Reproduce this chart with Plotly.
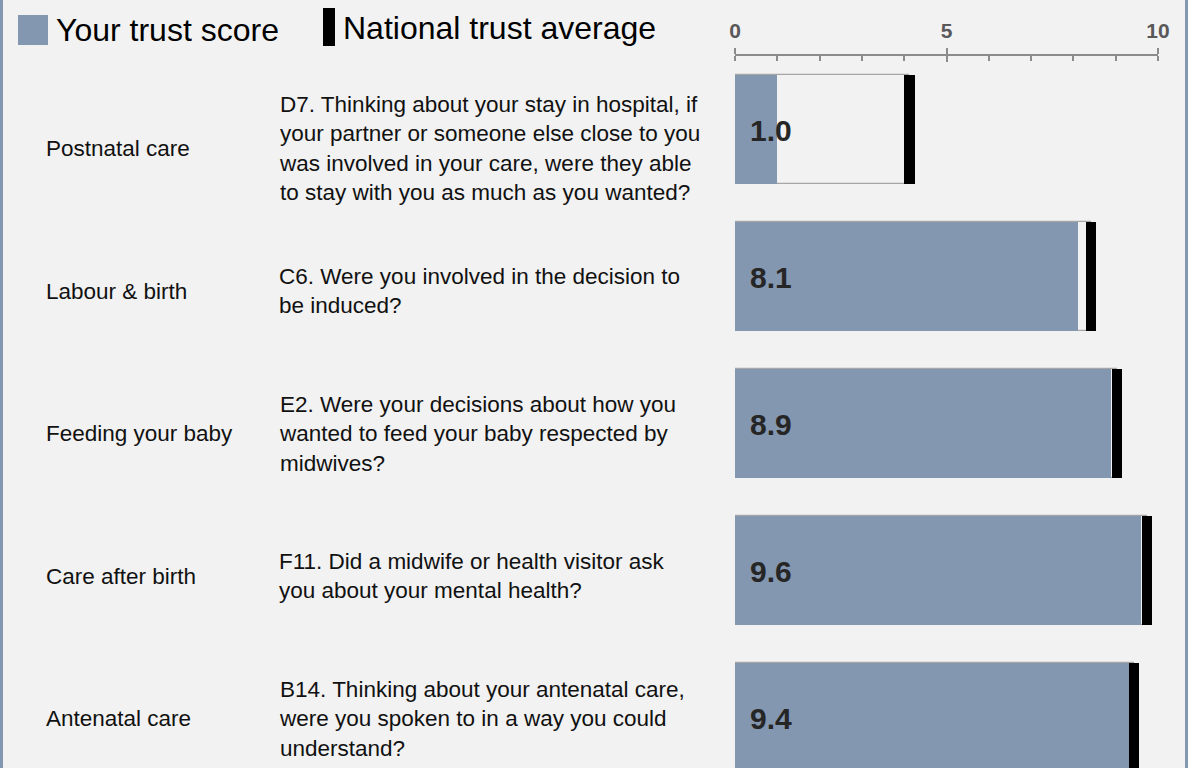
import plotly.graph_objects as go

# ---------------- data ----------------
categories = ["Postnatal care", "Labour & birth", "Feeding your baby",
              "Care after birth", "Antenatal care"]
questions = [
    "D7. Thinking about your stay in hospital, if<br>your partner or someone else close to you<br>was involved in your care, were they able<br>to stay with you as much as you wanted?",
    "C6. Were you involved in the decision to<br>be induced?",
    "E2. Were your decisions about how you<br>wanted to feed your baby respected by<br>midwives?",
    "F11. Did a midwife or health visitor ask<br>you about your mental health?",
    "B14. Thinking about your antenatal care,<br>were you spoken to in a way you could<br>understand?",
]
trust_scores = [1.0, 8.1, 8.9, 9.6, 9.4]
national_avg = [4.12, 8.42, 9.03, 9.74, 9.43]
tick_values = [0, 5, 10]
tick_labels = ["0", "5", "10"]

# ---------------- styles ----------------
W, H = 1188, 768
ML, MR, MT, MB = 735, 30, 56, 0
PW, PH = W - ML - MR, H - MT - MB
GREY = "#8497b0"
AXIS = "#8c8c8c"
FONT = "Liberation Sans, Arial, sans-serif"
BAR_W = 0.741
MARK_W = 0.25
TXT = 22.5


def px_x(px):
    return (px - ML) / PW


def px_y(py):
    return (H - MB - py) / PH


fig = go.Figure()

# outline box up to national average
fig.add_trace(go.Bar(
    y=categories, x=national_avg, base=0, orientation="h", width=BAR_W,
    marker=dict(color="#f2f2f2", line=dict(color="#a6a6a6", width=1.2)),
    showlegend=False, hoverinfo="skip", xaxis="x", yaxis="y"))
# trust score
fig.add_trace(go.Bar(
    y=categories, x=trust_scores, base=0, orientation="h", width=BAR_W,
    marker=dict(color=GREY, line=dict(width=0)),
    showlegend=False, hoverinfo="skip", xaxis="x", yaxis="y"))
# national average marker
fig.add_trace(go.Bar(
    y=categories, x=[MARK_W] * len(national_avg),
    base=[v - MARK_W / 2 for v in national_avg], orientation="h", width=BAR_W,
    marker=dict(color="black", line=dict(width=0)),
    showlegend=False, hoverinfo="skip", xaxis="x", yaxis="y"))
# invisible trace binding the secondary axes (text rows + tick overlay)
fig.add_trace(go.Scatter(x=[0], y=[categories[0]], mode="markers",
                         marker=dict(opacity=0), showlegend=False,
                         hoverinfo="skip", xaxis="x2", yaxis="y2"))

annotations = []
for cat, q, s in zip(categories, questions, trust_scores):
    annotations.append(dict(
        x=px_x(44), xref="paper", y=cat, yref="y2",
        text=cat, showarrow=False, xanchor="left", yanchor="middle",
        font=dict(family=FONT, size=TXT, color="#111111")))
    annotations.append(dict(
        x=px_x(277), xref="paper", y=cat, yref="y2",
        text=q, showarrow=False, xanchor="left", yanchor="middle", align="left",
        font=dict(family=FONT, size=TXT, color="#111111")))
    annotations.append(dict(
        x=0, xref="x", y=cat, yref="y", xshift=13, yshift=-1,
        text=f"{s:.1f}", showarrow=False, xanchor="left", yanchor="middle",
        font=dict(family=FONT, size=30, color="#262626", weight="bold")))

# legend (manual)
annotations.append(dict(
    x=px_x(54), xref="paper", y=px_y(30), yref="paper",
    text="Your trust score", showarrow=False, xanchor="left", yanchor="middle",
    font=dict(family=FONT, size=32, color="black")))
annotations.append(dict(
    x=px_x(341), xref="paper", y=px_y(28), yref="paper",
    text="National trust average", showarrow=False, xanchor="left",
    yanchor="middle", font=dict(family=FONT, size=32, color="black")))

shapes = [
    dict(type="rect", xref="paper", yref="paper",
         x0=px_x(18), x1=px_x(48), y0=px_y(45), y1=px_y(15),
         fillcolor=GREY, line=dict(width=0)),
    dict(type="rect", xref="paper", yref="paper",
         x0=px_x(323), x1=px_x(335), y0=px_y(46), y1=px_y(8),
         fillcolor="black", line=dict(width=0)),
    dict(type="line", xref="paper", yref="paper",
         x0=px_x(1.5), x1=px_x(1.5), y0=px_y(H), y1=px_y(0),
         line=dict(color=GREY, width=3)),
    dict(type="line", xref="paper", yref="paper",
         x0=px_x(W - 1.5), x1=px_x(W - 1.5), y0=px_y(H), y1=px_y(0),
         line=dict(color=GREY, width=3)),
]

fig.update_layout(
    width=W, height=H,
    margin=dict(l=ML, r=MR, t=MT, b=MB, pad=0),
    paper_bgcolor="#f2f2f2", plot_bgcolor="#f2f2f2",
    barmode="overlay", bargap=0,
    font=dict(family=FONT),
    xaxis=dict(side="top", range=[0, 10], showgrid=False, zeroline=False,
               showline=True, linecolor=AXIS, linewidth=2,
               tickmode="array", tickvals=tick_values, ticktext=tick_labels,
               ticks="outside", ticklen=6, tickwidth=2, tickcolor=AXIS,
               ticklabelstandoff=2,
               tickfont=dict(family=FONT, size=21, color="#595959", weight="bold"),
               minor=dict(ticks="inside", ticklen=5, tickwidth=1.5,
                          tickcolor=AXIS, dtick=1, showgrid=False),
               fixedrange=True),
    xaxis2=dict(overlaying="x", side="top", range=[0, 10], showgrid=False,
                zeroline=False, showline=False, tickmode="array",
                tickvals=tick_values, ticks="inside", ticklen=6, tickwidth=2,
                tickcolor=AXIS, showticklabels=False, fixedrange=True),
    yaxis=dict(type="category", categoryorder="array", categoryarray=categories,
               range=[4.344, -0.5], showticklabels=False, showgrid=False,
               zeroline=False, showline=False, ticks="", fixedrange=True),
    yaxis2=dict(type="category", categoryorder="array", categoryarray=categories,
                overlaying="y", range=[4.345, -0.651], showticklabels=False,
                showgrid=False, zeroline=False, showline=False, ticks="",
                fixedrange=True),
    annotations=annotations, shapes=shapes,
)

fig.write_html(
    "out.html",
    config={"displayModeBar": False},
    post_script="document.body.style.margin='0';"
                "document.body.style.background='#f2f2f2';"
                "document.body.style.overflow='hidden';",
)
